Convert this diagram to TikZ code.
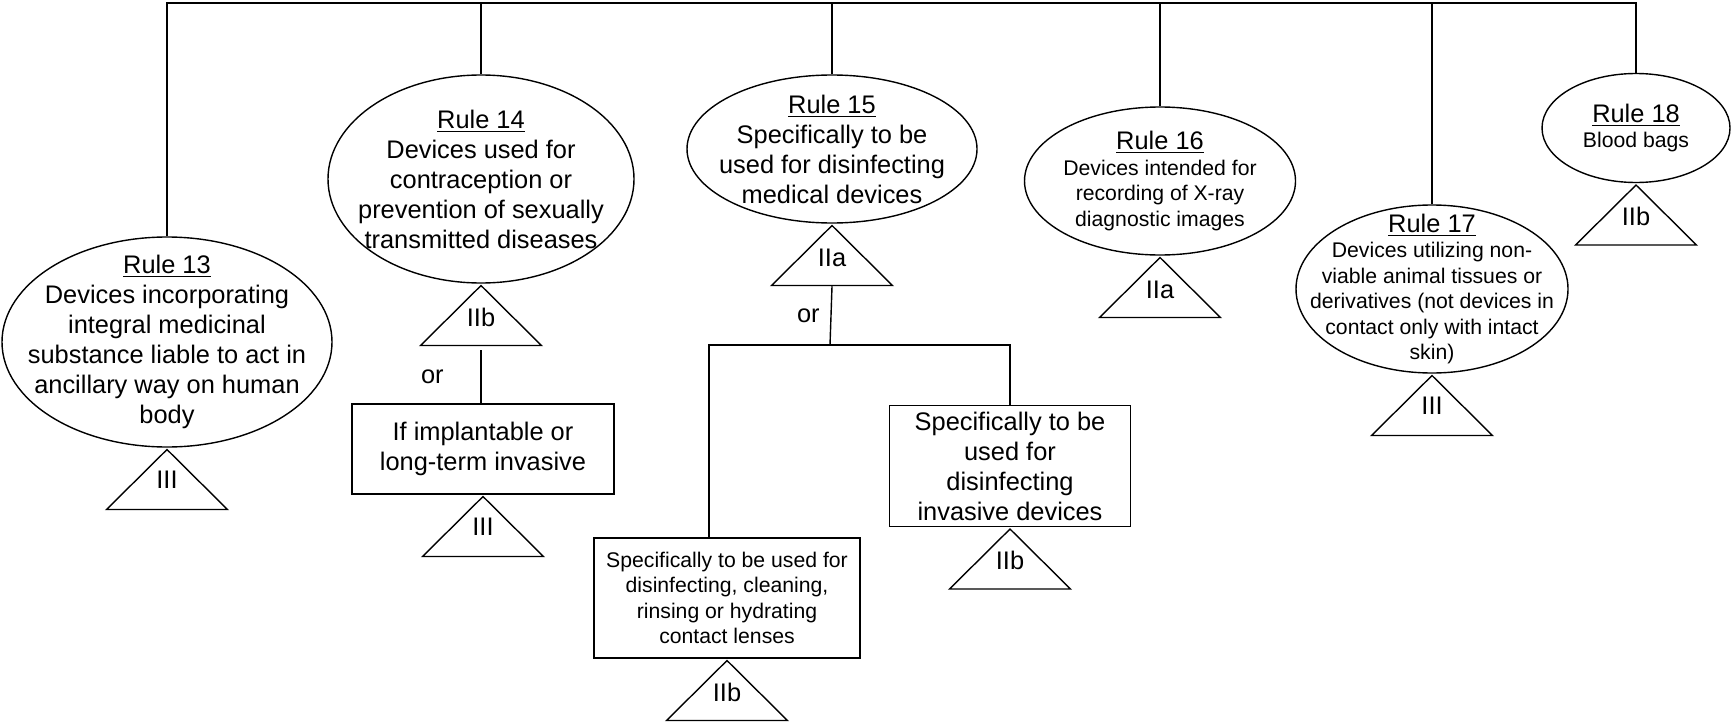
\documentclass[tikz,border=0pt]{standalone}
\usepackage{fontspec}
\setmainfont{Liberation Sans}
\usetikzlibrary{shapes.geometric}

\newcommand{\bigtxt}{\fontsize{12.7pt}{15pt}\selectfont}
\newcommand{\smalltxt}{\fontsize{10.6pt}{12.75pt}\selectfont}

\begin{document}
\begin{tikzpicture}[x=0.5pt, y=-0.5pt, line width=0.7pt]
        % Define styles
        \tikzset{
            rulenode/.style={ellipse, draw, inner sep=-30pt, align=center, font=\bigtxt},
            condition/.style={rectangle, draw, inner sep=0pt, align=center, font=\bigtxt},
            riskclass/.style={isosceles triangle, isosceles triangle stretches, shape border rotate=90, draw, minimum width=60.5pt, minimum height=30pt, inner sep=0pt, text height=0pt, text depth=0pt, font=\bigtxt, anchor=apex},
            connector/.style={draw}
        }
        \useasboundingbox (0,0) rectangle (1732,722);

        % Nodes
        \node[rulenode, minimum width=165pt, minimum height=105pt] (rule_node_13) at (167,342) {\underline{Rule 13}\\Devices incorporating\\integral medicinal\\substance liable to act in\\ancillary way on human\\body};
        \node[riskclass] (class_node_13) at (rule_node_13.south) {III};

        \node[rulenode, minimum width=153pt, minimum height=104pt] (rule_node_14) at (481,179) {\underline{Rule 14}\\Devices used for\\contraception or\\prevention of sexually\\transmitted diseases};
        \node[riskclass] (class_node_14) at (rule_node_14.south) {IIb};
        \node[condition, minimum width=131pt, minimum height=45pt] (condition_node_14) at (483,449) {If implantable or\\long-term invasive};
        \node[riskclass] (class_node_14b) at (condition_node_14.south) {III};

        \node[rulenode, minimum width=145pt, minimum height=74pt] (rule_node_15) at (832,149) {\underline{Rule 15}\\Specifically to be\\used for disinfecting\\medical devices};
        \node[riskclass] (class_node_15) at (rule_node_15.south) {IIa};
        \node[condition, minimum width=133pt, minimum height=60pt, font=\smalltxt] (condition_node_15a) at (727,598) {Specifically to be used for\\disinfecting, cleaning,\\rinsing or hydrating\\contact lenses};
        \node[riskclass] (class_node_15a) at (condition_node_15a.south) {IIb};
        \node[condition, minimum width=120.5pt, minimum height=60.5pt] (condition_node_15b) at (1010,466) {Specifically to be\\used for\\disinfecting\\invasive devices};
        \node[riskclass] (class_node_15b) at (condition_node_15b.south) {IIb};

        \node[rulenode, minimum width=135.5pt, minimum height=74pt, font=\smalltxt] (rule_node_16) at (1160,181) {{\bigtxt\underline{Rule 16}}\\Devices intended for\\recording of X-ray\\diagnostic images};
        \node[riskclass] (class_node_16) at (rule_node_16.south) {IIa};

        \node[rulenode, minimum width=136pt, minimum height=84pt, font=\smalltxt] (rule_node_17) at (1432,289) {{\bigtxt\underline{Rule 17}}\\Devices utilizing non-\\viable animal tissues or\\derivatives (not devices in\\contact only with intact\\skin)};
        \node[riskclass] (class_node_17) at (rule_node_17.south) {III};

        \node[rulenode, minimum width=94pt, minimum height=54.5pt, font=\smalltxt] (rule_node_18) at (1636,128) {{\bigtxt\underline{Rule 18}}\\Blood bags};
        \node[riskclass] (class_node_18) at (rule_node_18.south) {IIb};

        % Connectors
        \coordinate (bar) at (0,3);
        \coordinate (split_15) at (830,345);
        \draw[connector] (rule_node_13.north) |- (rule_node_18.north |- bar) -- (rule_node_18.north);
        \foreach \n in {14,15,16,17}
            \draw[connector] (rule_node_\n.north) -- (rule_node_\n.north |- bar);
        \draw[connector] ([yshift=-2pt]class_node_14.south) -- (class_node_14.south |- condition_node_14.north) node[midway, left=15pt, font=\bigtxt] {or};
        \draw[connector] (class_node_15.south) -- (split_15) node[midway, left=2pt, font=\bigtxt] {or};
        \draw[connector] ([xshift=-9pt]condition_node_15a.north) |- (split_15) -| (condition_node_15b.north);
\end{tikzpicture}
\end{document}
